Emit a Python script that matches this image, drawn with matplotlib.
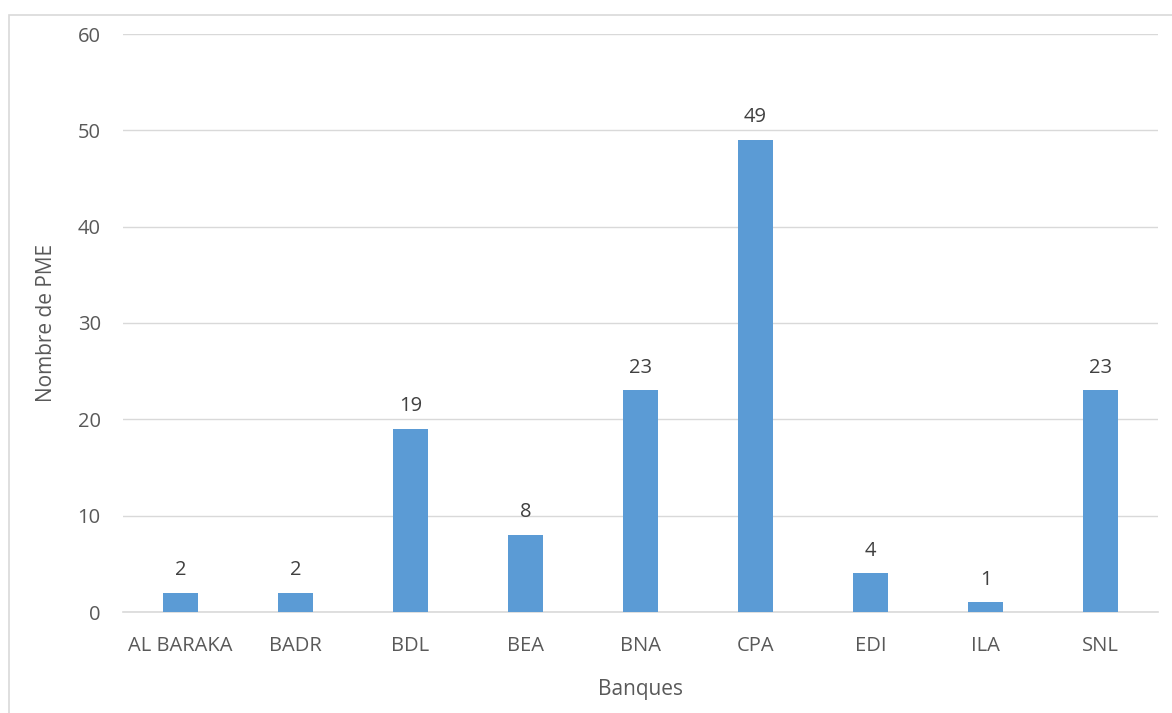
import matplotlib.pyplot as plt
from matplotlib.patches import Rectangle
import numpy as np

banques = ["AL BARAKA", "BADR", "BDL", "BEA", "BNA", "CPA", "EDI", "ILA", "SNL"]
nb_pme = [2, 2, 19, 8, 23, 49, 4, 1, 23]
yticks = [0, 10, 20, 30, 40, 50, 60]

plt.rcParams['font.family'] = ['Open Sans', 'DejaVu Sans']

W, H = 1172, 713
fig = plt.figure(figsize=(W / 100, H / 100), dpi=100)

# chart frame (cut off on the right and bottom in the original)
fig.patches.append(Rectangle((9 / W, -0.1), 1.2, (H - 15) / H + 0.1,
                             transform=fig.transFigure, fill=False,
                             edgecolor='#d9d9d9', linewidth=1.2))

ax = fig.add_axes([123 / W, (H - 612) / H, (1158 - 123) / W, (612 - 34) / H])
x = np.arange(len(banques))
ax.bar(x, nb_pme, width=0.31, color='#5b9bd5', zorder=3)
for xi, v in zip(x, nb_pme):
    ax.text(xi, v + 1.3, str(v), ha='center', va='bottom', fontsize=14.5, color='#404040')

ax.set_xlim(-0.5, len(banques) - 0.5)
ax.set_ylim(0, 60)
ax.set_yticks(yticks)
ax.set_xticks(x)
ax.set_xticklabels(banques)
ax.grid(axis='y', color='#d9d9d9', linewidth=1, zorder=0)
for s in ['top', 'right', 'left']:
    ax.spines[s].set_visible(False)
ax.spines['bottom'].set_color('#d9d9d9')
ax.spines['bottom'].set_linewidth(1.2)
ax.tick_params(length=0, labelsize=14.5, colors='#595959')
ax.tick_params(axis='x', pad=17)
ax.tick_params(axis='y', pad=16)
ax.set_xlabel('Banques', fontsize=15, color='#595959', labelpad=17)
ax.set_ylabel('Nombre de PME', fontsize=15, color='#595959', labelpad=15)

fig.savefig('out.png', dpi=100)
